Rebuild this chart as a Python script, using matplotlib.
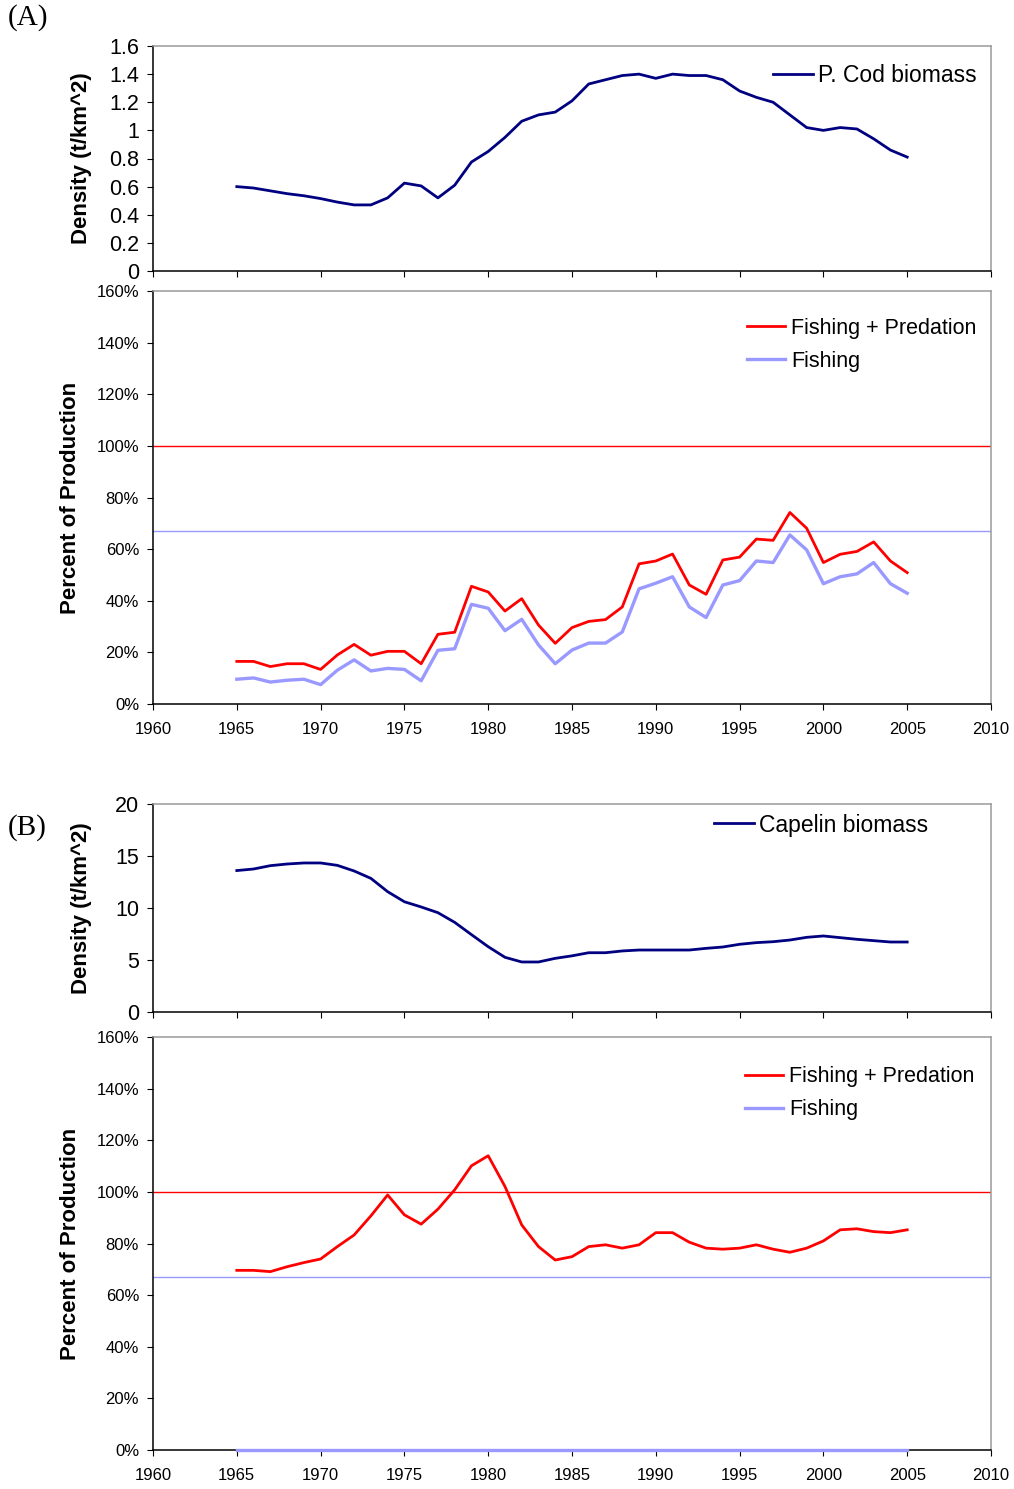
import numpy as np
import matplotlib
matplotlib.use("Agg")
import matplotlib.pyplot as plt
from matplotlib.ticker import FuncFormatter

plt.rcParams['font.family'] = ['Liberation Sans', 'DejaVu Sans']

# Data
years = np.arange(1965, 2006)

cod_biomass = [0.60, 0.59, 0.57, 0.55, 0.535, 0.515, 0.49, 0.47, 0.47, 0.52,
               0.625, 0.605, 0.52, 0.61, 0.775, 0.85, 0.95, 1.065, 1.11, 1.13,
               1.21, 1.33, 1.36, 1.39, 1.40, 1.37, 1.40, 1.39, 1.39, 1.36,
               1.28, 1.235, 1.20, 1.11, 1.02, 1.00, 1.02, 1.01, 0.94, 0.86, 0.81]

cod_fish_pred = [16.5, 16.5, 14.5, 15.6, 15.6, 13.4, 19.0, 23.1, 18.9, 20.4,
                 20.4, 15.6, 27.0, 27.8, 45.6, 43.4, 36.0, 40.8, 30.6, 23.5,
                 29.6, 32.0, 32.7, 37.6, 54.3, 55.4, 58.1, 46.1, 42.5, 55.8,
                 56.9, 63.9, 63.4, 74.2, 68.1, 54.8, 58.0, 59.1, 62.8, 55.4, 50.9]

cod_fishing = [9.6, 10.1, 8.5, 9.2, 9.6, 7.5, 13.1, 17.1, 12.8, 13.8,
               13.4, 9.0, 20.8, 21.4, 38.6, 37.1, 28.4, 32.8, 22.9, 15.6,
               20.9, 23.6, 23.6, 27.9, 44.6, 46.8, 49.3, 37.6, 33.5, 46.1,
               47.8, 55.4, 54.8, 65.5, 59.7, 46.6, 49.3, 50.4, 54.8, 46.6, 42.9]

capelin_biomass = [13.6, 13.75, 14.07, 14.23, 14.33, 14.33, 14.1, 13.56, 12.85, 11.57,
                   10.6, 10.1, 9.55, 8.62, 7.44, 6.28, 5.26, 4.81, 4.81, 5.16,
                   5.4, 5.7, 5.7, 5.87, 5.96, 5.96, 5.96, 5.96, 6.12, 6.25,
                   6.51, 6.67, 6.76, 6.92, 7.18, 7.31, 7.15, 6.99, 6.86, 6.73, 6.73]

capelin_fish_pred = [69.6, 69.6, 69.1, 71.0, 72.6, 74.0, 78.8, 83.3, 90.7, 98.8,
                     91.1, 87.5, 93.3, 100.8, 110.1, 114.0, 102.1, 87.2, 78.8, 73.6,
                     74.9, 78.8, 79.5, 78.2, 79.5, 84.2, 84.2, 80.5, 78.2, 77.8,
                     78.2, 79.5, 77.8, 76.6, 78.2, 81.0, 85.3, 85.7, 84.6, 84.2, 85.3]

capelin_fishing = [0.0] * 41

ref_fish_pred = 100
ref_fishing = 67

NAVY = "#000080"
RED = "#FF0000"
LBLUE = "#9999FF"

W, H = 1014, 1489
fig = plt.figure(figsize=(W / 100, H / 100), dpi=100)


def add_ax(top, bottom, left=153, right=991):
    return fig.add_axes([left / W, 1 - bottom / H, (right - left) / W, (bottom - top) / H])


def style(ax, ysize):
    for s in ['top', 'right']:
        ax.spines[s].set_color('#9a9a9a')
    for s in ['left', 'bottom']:
        ax.spines[s].set_color('black')
    for s in ax.spines.values():
        s.set_linewidth(1.1)
    ax.set_xlim(1960, 2010)
    ax.set_xticks(range(1960, 2011, 5))
    ax.tick_params(axis='y', direction='out', length=4, width=0.8, pad=6, labelsize=ysize)
    ax.tick_params(axis='x', direction='out', length=4, width=0.8, pad=9, labelsize=12)


pct = FuncFormatter(lambda v, p: f"{v:.0f}%")
num = FuncFormatter(lambda v, p: f"{v:g}")

# ---- (A) Pacific cod ----
ax1 = add_ax(46, 271)
ax1.plot(years, cod_biomass, color=NAVY, lw=2.0, label='P. Cod biomass')
style(ax1, 15.5)
ax1.set_ylim(0, 1.6)
ax1.set_yticks(np.arange(0, 1.61, 0.2))
ax1.yaxis.set_major_formatter(num)
ax1.tick_params(axis='x', labelbottom=False)
ax1.set_ylabel('Density (t/km^2)', fontsize=16, fontweight='bold')
ax1.yaxis.set_label_coords(-0.073, 0.5)
ax1.legend(loc='center right', bbox_to_anchor=(0.983, 0.871), frameon=False,
           fontsize=16.5, handlelength=1.75, handletextpad=0.22, borderpad=0,
           borderaxespad=0)

ax2 = add_ax(291, 704)
ax2.axhline(ref_fish_pred, color=RED, lw=1.0)
ax2.axhline(ref_fishing, color=LBLUE, lw=1.0)
ax2.plot(years, cod_fish_pred, color=RED, lw=2.0, label='Fishing + Predation', zorder=4)
ax2.plot(years, cod_fishing, color=LBLUE, lw=2.4, label='Fishing', zorder=3)
style(ax2, 12)
ax2.set_ylim(0, 160)
ax2.set_yticks(range(0, 161, 20))
ax2.yaxis.set_major_formatter(pct)
ax2.set_ylabel('Percent of Production', fontsize=16, fontweight='bold')
ax2.yaxis.set_label_coords(-0.086, 0.5)
ax2.legend(loc='center right', bbox_to_anchor=(0.983, 0.870), frameon=False,
           fontsize=15.5, handlelength=1.77, handletextpad=0.28, borderpad=0,
           borderaxespad=0, labelspacing=0.55)

# ---- (B) Capelin ----
ax3 = add_ax(804, 1012)
ax3.plot(years, capelin_biomass, color=NAVY, lw=2.0, label='Capelin biomass')
style(ax3, 15.5)
ax3.set_ylim(0, 20)
ax3.set_yticks(range(0, 21, 5))
ax3.tick_params(axis='x', labelbottom=False)
ax3.set_ylabel('Density (t/km^2)', fontsize=16, fontweight='bold')
ax3.yaxis.set_label_coords(-0.073, 0.5)
ax3.legend(loc='center right', bbox_to_anchor=(0.925, 0.899), frameon=False,
           fontsize=16.5, handlelength=1.75, handletextpad=0.22, borderpad=0,
           borderaxespad=0)

ax4 = add_ax(1037, 1450)
ax4.axhline(ref_fish_pred, color=RED, lw=1.0)
ax4.axhline(ref_fishing, color=LBLUE, lw=1.0)
ax4.plot(years, capelin_fish_pred, color=RED, lw=2.0, label='Fishing + Predation', zorder=4)
ax4.plot(years, capelin_fishing, color=LBLUE, lw=2.4, label='Fishing', zorder=5, clip_on=False)
style(ax4, 12)
ax4.set_ylim(0, 160)
ax4.set_yticks(range(0, 161, 20))
ax4.yaxis.set_major_formatter(pct)
ax4.set_ylabel('Percent of Production', fontsize=16, fontweight='bold')
ax4.yaxis.set_label_coords(-0.086, 0.5)
ax4.legend(loc='center right', bbox_to_anchor=(0.980, 0.864), frameon=False,
           fontsize=15.5, handlelength=1.77, handletextpad=0.28, borderpad=0,
           borderaxespad=0, labelspacing=0.55)

fig.text(8 / W, 1 - 18 / H, '(A)', family='Liberation Serif', fontsize=21, va='center', ha='left')
fig.text(8 / W, 1 - 828 / H, '(B)', family='Liberation Serif', fontsize=21, va='center', ha='left')

fig.savefig('out.png', dpi=100)
